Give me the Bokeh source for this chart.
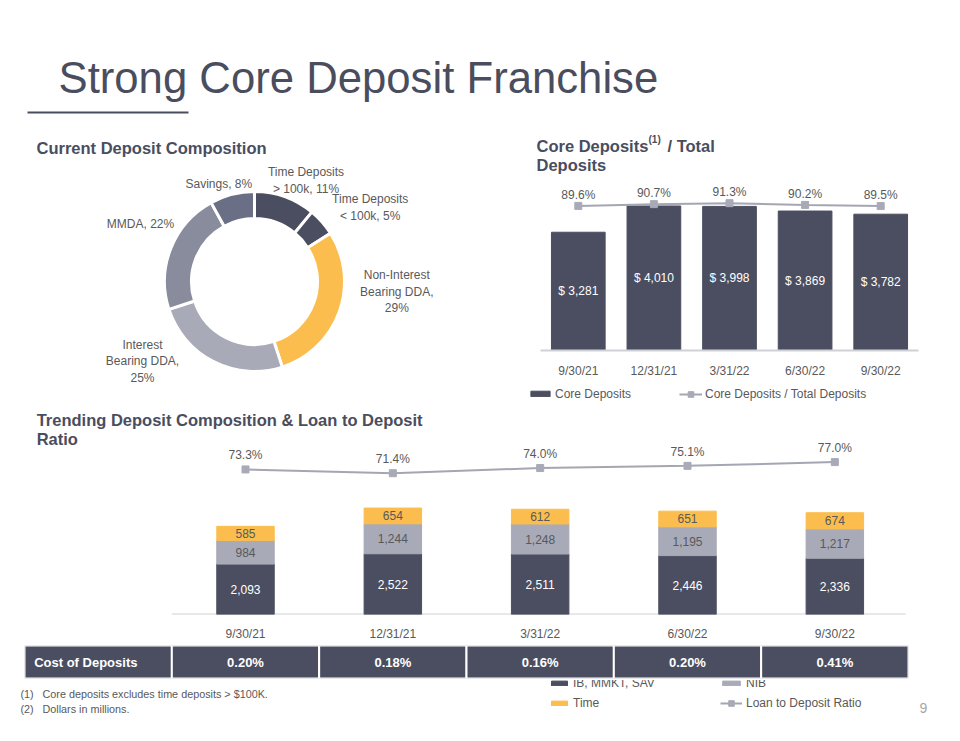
import numpy as np
from bokeh.plotting import figure
from bokeh.models import (Range1d, FactorRange, ColumnDataSource, Legend, LegendItem)
from bokeh.layouts import column, row
from bokeh.core.properties import value
from bokeh.embed import file_html
from bokeh.resources import INLINE

# ---------------- data ----------------
page_title = "Strong Core Deposit Franchise"

donut_title = "Current Deposit Composition"
donut_names = ["Time Deposits\n> 100k", "Time Deposits\n< 100k", "Non-Interest\nBearing DDA",
               "Interest\nBearing DDA", "MMDA", "Savings"]
donut_pct = [11, 5, 29, 25, 22, 8]

core_title = ["Core Deposits", "(1)", "/ Total", "Deposits"]
core_dates = ["9/30/21", "12/31/21", "3/31/22", "6/30/22", "9/30/22"]
core_deposits = [3281, 4010, 3998, 3869, 3782]
core_ratio = [89.6, 90.7, 91.3, 90.2, 89.5]
core_series = ["Core Deposits", "Core Deposits / Total Deposits"]

trend_title = ["Trending Deposit Composition & Loan to Deposit", "Ratio"]
trend_dates = ["9/30/21", "12/31/21", "3/31/22", "6/30/22", "9/30/22"]
ib_mmkt_sav = [2093, 2522, 2511, 2446, 2336]
nib = [984, 1244, 1248, 1195, 1217]
time_dep = [585, 654, 612, 651, 674]
loan_to_deposit = [73.3, 71.4, 74.0, 75.1, 77.0]
trend_series = ["IB, MMKT, SAV", "NIB", "Time", "Loan to Deposit Ratio"]

cost_label = "Cost of Deposits"
cost_of_deposits = [0.20, 0.18, 0.16, 0.20, 0.41]

footnote_marks = ["(1)", "(2)"]
footnotes = ["Core deposits excludes time deposits > $100K.", "Dollars in millions."]
page_number = "9"

# ---------------- styles ----------------
FONT = "Liberation Sans"
DARK = "#4b4e60"
DARK_TEXT = "#4a4d5e"
YELLOW = "#fbbe4e"
NIB_GRAY = "#a8aab7"
MMDA_GRAY = "#898c9d"
SAV_GRAY = "#6b6f85"
LINE_GRAY = "#a4a6b2"
LABEL = "#595959"
AXIS = "#d0d1d6"
donut_colors = [DARK, DARK, YELLOW, NIB_GRAY, MMDA_GRAY, SAV_GRAY]


def base_fig(w, h, xr, yr, **kw):
    opts = dict(width=w, height=h, x_range=xr, y_range=yr, output_backend="svg",
                toolbar_location=None, outline_line_color=None, frame_align=False,
                background_fill_color="white", border_fill_color="white")
    opts.update(kw)
    p = figure(**opts)
    p.grid.visible = False
    return p


def page_fig(x0, x1, y0, y1):
    """A decoration panel whose data units are page pixels (y grows downward)."""
    return base_fig(x1 - x0, y1 - y0, Range1d(x0, x1), Range1d(y1, y0),
                    x_axis_location=None, y_axis_location=None, min_border=0)


def heading(fig, x, y, text, size="16.5px", **kw):
    fig.text(x=[x], y=[y], text=[text], text_font=value(FONT), text_font_size=size,
             text_font_style="bold", text_color=DARK_TEXT,
             text_baseline="middle", text_align="left", **kw)


def flat_legend(fig, renderers, label, loc, gw, gh, standoff):
    lg = Legend(items=[LegendItem(label=label, renderers=renderers)], location=loc,
                glyph_width=gw, glyph_height=gh, label_height=14, label_standoff=standoff,
                padding=0, margin=0, spacing=0, border_line_color=None, background_fill_alpha=0,
                label_text_font=FONT, label_text_font_size="12px", label_text_color=LABEL)
    fig.add_layout(lg)
    return lg


def style_cat_axis(p, standoff):
    p.xaxis.axis_line_color = AXIS
    p.xaxis.axis_line_width = 2
    p.xaxis.major_tick_line_color = None
    p.xaxis.minor_tick_line_color = None
    p.xaxis.major_label_standoff = standoff
    p.xaxis.major_label_text_font = FONT
    p.xaxis.major_label_text_font_size = "12px"
    p.xaxis.major_label_text_color = LABEL

# ---------------- title ----------------
ttl = page_fig(0, 960, 0, 125)
ttl.text(x=[58], y=[76.5], text=[page_title], text_font=value(FONT), text_font_size="43.7px",
         text_color=DARK_TEXT, text_baseline="middle")
ttl.segment(x0=[27], y0=[112], x1=[188], y1=[112], line_color=DARK_TEXT, line_width=2)

# ---------------- donut ----------------
D_TOP, D_BOT = 125, 405
dn = base_fig(480, D_BOT - D_TOP, Range1d(0, 480), Range1d(0, D_BOT - D_TOP),
              x_axis_location=None, y_axis_location=None, min_border=0)
Y = lambda py: D_BOT - py
frac = np.array(donut_pct, dtype=float) / sum(donut_pct)
cum = np.concatenate([[0.0], np.cumsum(frac)])
dsrc = ColumnDataSource(dict(
    x=[254] * len(frac), y=[Y(281)] * len(frac),
    start=list(np.pi / 2 - 2 * np.pi * cum[:-1]), end=list(np.pi / 2 - 2 * np.pi * cum[1:]),
    color=donut_colors))
dn.annular_wedge(x="x", y="y", inner_radius=63, outer_radius=90, inner_radius_units="screen",
                 outer_radius_units="screen", start_angle="start", end_angle="end",
                 direction="clock", fill_color="color", line_color="white", line_width=3, source=dsrc)
label_seps = [", ", ", ", ",\n", ",\n", ", ", ", "]
label_pos = [(305.5, 179.7), (369.7, 207.2), (396.3, 291.2), (142, 360.8), (140, 223.3), (218.3, 183.3)]
dn.text(x=[p[0] for p in label_pos], y=[Y(p[1]) for p in label_pos],
        text=[f"{n}{s}{v}%" for n, s, v in zip(donut_names, label_seps, donut_pct)],
        text_font=value(FONT), text_font_size="12px", text_color=LABEL,
        text_align="center", text_baseline="middle", text_line_height=1.2)
heading(dn, 36, Y(147), donut_title)

# ---------------- core deposits ----------------
chead = page_fig(480, 960, 125, 177)
heading(chead, 536, 145, core_title[0])
heading(chead, 648, 139, core_title[1], size="10px")
heading(chead, 667, 145, core_title[2])
heading(chead, 536, 164, core_title[3])

core = base_fig(480, 203, FactorRange(*core_dates), Range1d(0, 4800), y_axis_location=None,
                min_border_left=60, min_border_right=42, min_border_top=0, min_border_bottom=25)
core.extra_y_ranges = {"pct": Range1d(0, 107.2)}
csrc = ColumnDataSource(dict(date=core_dates, dep=core_deposits, mid=[v / 2 for v in core_deposits],
                             dep_txt=[f"$ {v:,}" for v in core_deposits],
                             ratio=core_ratio, ratio_txt=[f"{v:.1f}%" for v in core_ratio]))
core.vbar(x="date", top="dep", width=0.71, color=DARK, source=csrc)
core.text(x="date", y="mid", text="dep_txt", text_font=value(FONT), text_font_size="12px",
          text_color="white", text_align="center", text_baseline="middle", source=csrc)
core.line(x="date", y="ratio", y_range_name="pct", line_color=LINE_GRAY, line_width=2, source=csrc)
core.scatter(x="date", y="ratio", y_range_name="pct", marker="square", size=7,
             fill_color=NIB_GRAY, line_color=NIB_GRAY, source=csrc)
core.text(x="date", y="ratio", text="ratio_txt", y_range_name="pct", y_offset=-11,
          text_font=value(FONT), text_font_size="12px", text_color=LABEL,
          text_align="center", text_baseline="middle", source=csrc)
style_cat_axis(core, 7)

# legend keys for the core chart (hidden copies of the series; only their keys are shown)
cleg = page_fig(480, 960, 380, 405)
k_bar = cleg.vbar(x=list(range(len(core_deposits))), top=core_deposits, width=0.7, color=DARK, visible=False)
k_line = cleg.line(x=list(range(len(core_ratio))), y=core_ratio, line_color=LINE_GRAY, line_width=2, visible=False)
k_mark = cleg.scatter(x=list(range(len(core_ratio))), y=core_ratio, marker="square", size=7,
                      fill_color=NIB_GRAY, line_color=NIB_GRAY, visible=False)
flat_legend(cleg, [k_bar], core_series[0], (48, 4.5), 24, 7, 3)
flat_legend(cleg, [k_line, k_mark], core_series[1], (199, 4.5), 23, 14, 3)

# ---------------- trend (chart + heading share one panel) ----------------
LEAD = " "  # empty first slot: the column of the table's row header
Y_END = 8680
tr = base_fig(960, 238, FactorRange(LEAD, *trend_dates), Range1d(0, Y_END), y_axis_location=None,
              min_border_left=24, min_border_right=52, min_border_top=0, min_border_bottom=22)
tr.extra_y_ranges = {"pct": Range1d(0, 105.6)}
ib_a, nib_a, time_a = np.array(ib_mmkt_sav), np.array(nib), np.array(time_dep)
tsrc = ColumnDataSource(dict(date=trend_dates, ib=ib_mmkt_sav, nib=nib, time=time_dep,
                             ltd=loan_to_deposit, ltd_txt=[f"{v:.1f}%" for v in loan_to_deposit]))
trend_colors = [DARK, NIB_GRAY, YELLOW]
# baseline across the five date slots
tr.segment(x0=[(trend_dates[0], -0.5)], y0=[0], x1=[(trend_dates[-1], 0.48)], y1=[0],
           line_color=AXIS, line_width=2)
tr.vbar_stack(["ib", "nib", "time"], x="date", width=0.39, color=trend_colors, source=tsrc)
mids = [ib_a / 2, ib_a + nib_a / 2, ib_a + nib_a + time_a / 2]
txt_colors = ["white", LABEL, LABEL]
for arr, m, col in zip([ib_a, nib_a, time_a], mids, txt_colors):
    tr.text(x=trend_dates, y=list(m), text=[f"{v:,}" for v in arr], text_font=value(FONT),
            text_font_size="12px", text_color=col, text_align="center", text_baseline="middle")
tr.line(x="date", y="ltd", y_range_name="pct", line_color=LINE_GRAY, line_width=2, source=tsrc)
tr.scatter(x="date", y="ltd", y_range_name="pct", marker="square", size=7,
           fill_color=NIB_GRAY, line_color=NIB_GRAY, source=tsrc)
tr.text(x="date", y="ltd", text="ltd_txt", y_range_name="pct", y_offset=-14,
        text_font=value(FONT), text_font_size="12px", text_color=LABEL,
        text_align="center", text_baseline="middle", source=tsrc)
style_cat_axis(tr, 6)
tr.xaxis.axis_line_color = None
heading(tr, LEAD, Y_END, trend_title[0], x_offset=-61.5, y_offset=14.3)
heading(tr, LEAD, Y_END, trend_title[1], x_offset=-61.5, y_offset=33.6)

# ---------------- table ----------------
tb = base_fig(960, 37, FactorRange(cost_label, *trend_dates), Range1d(0, 1),
              x_axis_location=None, y_axis_location=None,
              min_border_left=24, min_border_right=52, min_border_top=2, min_border_bottom=2)
tb.rect(x=[cost_label] + trend_dates, y=0.5, width=1, height=1, fill_color=DARK,
        line_color="white", line_width=2)
tb.text(x=[cost_label], y=[0.5], text=[cost_label], x_offset=-64, text_font=value(FONT),
        text_font_size="13px", text_font_style="bold", text_color="white",
        text_align="left", text_baseline="middle")
tb.text(x=trend_dates, y=[0.5] * len(trend_dates), text=[f"{v:.2f}%" for v in cost_of_deposits],
        text_font=value(FONT), text_font_size="13px", text_font_style="bold", text_color="white",
        text_align="center", text_baseline="middle")

# ---------------- footer ----------------
ft = page_fig(0, 960, 680, 741)
ft.text(x=[20, 20], y=[693, 708], text=footnote_marks, text_font=value(FONT), text_font_size="10.8px",
        text_color=LABEL, text_baseline="middle")
ft.text(x=[42, 42], y=[693, 708], text=footnotes, text_font=value(FONT), text_font_size="10.8px",
        text_color=LABEL, text_baseline="middle")
ft.text(x=[923], y=[707], text=[page_number], text_font=value(FONT), text_font_size="14px",
        text_color="#a6a6a6", text_align="center", text_baseline="middle")
# legend keys for the trend chart (hidden copies of the series; only their keys are shown)
idx = list(range(len(trend_dates)))
r_ib = ft.vbar(x=idx, top=ib_mmkt_sav, width=0.4, color=DARK, visible=False)
r_nib = ft.vbar(x=idx, top=nib, width=0.4, color=NIB_GRAY, visible=False)
r_time = ft.vbar(x=idx, top=time_dep, width=0.4, color=YELLOW, visible=False)
r_l = ft.line(x=idx, y=loan_to_deposit, line_color=LINE_GRAY, line_width=2, visible=False)
r_m = ft.scatter(x=idx, y=loan_to_deposit, marker="square", size=7, fill_color=NIB_GRAY,
                 line_color=NIB_GRAY, visible=False)
flat_legend(ft, [r_ib], trend_series[0], (549, 51), 20, 6, 4)
flat_legend(ft, [r_nib], trend_series[1], (720, 51), 22, 6, 4)
flat_legend(ft, [r_time], trend_series[2], (549, 31), 20, 6, 4)
flat_legend(ft, [r_l, r_m], trend_series[3], (720, 31), 22, 14, 4)

layout = column(ttl, row(dn, column(chead, core, cleg)), tr, tb, ft)
open("out.html", "w").write(file_html(layout, INLINE))
